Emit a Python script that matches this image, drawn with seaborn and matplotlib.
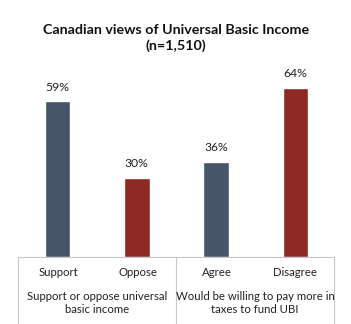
import matplotlib
matplotlib.use("Agg")
import matplotlib.pyplot as plt
import seaborn as sns
import pandas as pd
from matplotlib.lines import Line2D

categories = ["Support", "Oppose", "Agree", "Disagree"]
values = [59, 30, 36, 64]
labels = ["59%", "30%", "36%", "64%"]
groups = ["Support or oppose universal\nbasic income", "Would be willing to pay more in\ntaxes to fund UBI"]
title = "Canadian views of Universal Basic Income\n(n=1,510)"
colors = ["#465569", "#8E2A24", "#465569", "#8E2A24"]

sns.set_theme(style="white")
plt.rcParams['font.family'] = ['Lato', 'DejaVu Sans']

W, H = 351, 324
fig = plt.figure(figsize=(W / 100, H / 100), dpi=100)
fig.patch.set_facecolor("white")

left, right, bottom, top = 18, 335, 257, 70
ax = fig.add_axes([left / W, 1 - bottom / H, (right - left) / W, (bottom - top) / H])

df = pd.DataFrame({"cat": categories, "val": values})
sns.barplot(data=df, x="cat", y="val", hue="cat", palette=colors, legend=False,
            width=0.32, ax=ax, saturation=1)
ax.set_xlim(-0.5, 3.5)
ax.set_ylim(0, (bottom - top) / 2.64)
ax.axis("off")

for i, (v, l) in enumerate(zip(values, labels)):
    ax.text(i, v + 3.3, l, ha="center", va="bottom", fontsize=8.8, color="#222222")

def fx(x):
    return x / W

def fy(y):
    return 1 - y / H

lc = "#c8c8c8"
for x in [18, 176, 334]:
    fig.add_artist(Line2D([fx(x), fx(x)], [fy(257), fy(324)], color=lc, lw=0.8))
fig.add_artist(Line2D([fx(18), fx(334)], [fy(257), fy(257)], color=lc, lw=0.8))

cat_x = [58, 138, 217, 295]
for c, x in zip(categories, cat_x):
    fig.text(fx(x), fy(273), c, ha="center", va="center", fontsize=8.2, color="#222222")

fig.text(fx(97), fy(303), groups[0], ha="center", va="center", fontsize=8.2,
         color="#222222", linespacing=1.3)
fig.text(fx(255), fy(303), groups[1], ha="center", va="center", fontsize=8.2,
         color="#222222", linespacing=1.3)

fig.text(fx(176), fy(38), title, ha="center", va="center", fontsize=10.3,
         fontweight="bold", color="#111111", linespacing=1.35)

fig.savefig("out.png", dpi=100, facecolor="white")
